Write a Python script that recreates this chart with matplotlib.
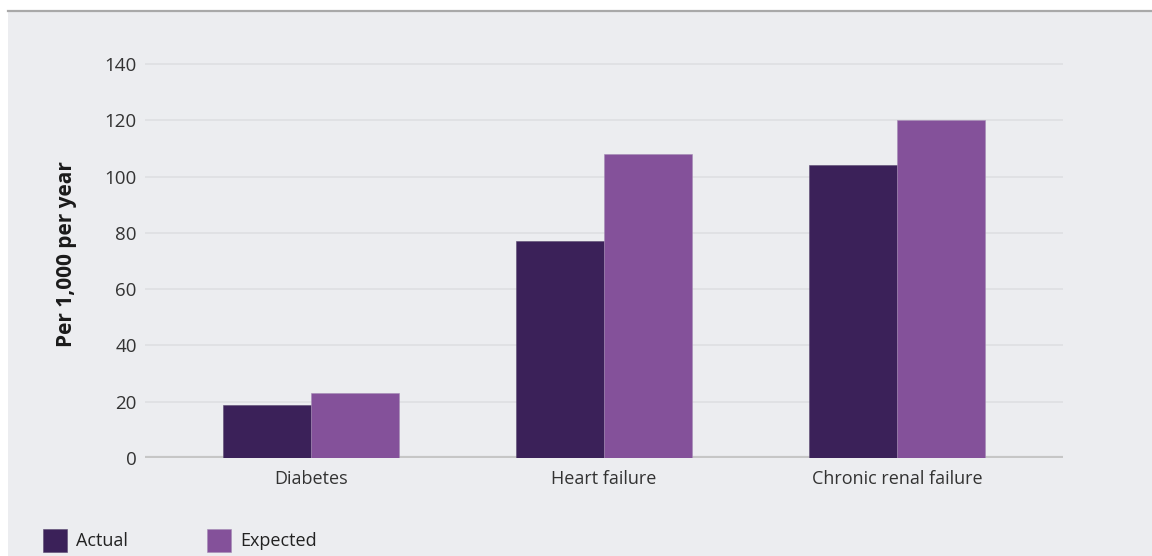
import matplotlib.pyplot as plt
import numpy as np
from matplotlib.patches import Rectangle, Patch
from matplotlib.lines import Line2D

plt.rcParams['font.family'] = ['Open Sans', 'DejaVu Sans']

# data
categories = ['Diabetes', 'Heart failure', 'Chronic renal failure']
actual = [19, 77, 104]
expected = [23, 108, 120]
yticks = [0, 20, 40, 60, 80, 100, 120, 140]

c_actual = '#3b2159'
c_expected = '#84519a'
bg = '#ecedf0'

W, H = 1152, 556
fig = plt.figure(figsize=(W / 100, H / 100), dpi=100)
fig.patch.set_facecolor('white')

# grey panel + rule at the top
fig.add_artist(Rectangle((8 / W, 0), 1 - 8 / W, (H - 12) / H, transform=fig.transFigure,
                         facecolor=bg, edgecolor='none', zorder=0))
fig.add_artist(Line2D([8 / W, 1], [1 - 11 / H, 1 - 11 / H], transform=fig.transFigure,
                      color='#a9a9a9', lw=1.6, zorder=1))

ax = fig.add_axes([145 / W, 98 / H, (1063 - 145) / W, 408 / H])
ax.set_facecolor('none')

x = np.arange(len(categories))
w = 0.3
ax.bar(x - w / 2, actual, w, color=c_actual, edgecolor='#5a4a70', linewidth=0.4, zorder=3)
ax.bar(x + w / 2, expected, w, color=c_expected, edgecolor='#a58bb5', linewidth=0.4, zorder=3)

ax.set_xlim(-0.567, 2.567)
ax.set_ylim(0, 145)
ax.set_yticks(yticks)
ax.set_yticklabels([str(v) for v in yticks], fontsize=13.5, color='#333333')
ax.set_xticks(x)
ax.set_xticklabels(categories, fontsize=13, color='#333333')
ax.tick_params(axis='both', length=0)
ax.tick_params(axis='y', pad=6)
ax.tick_params(axis='x', pad=9)

for v in yticks[1:]:
    ax.axhline(v, color='#dedfe2', lw=1.2, zorder=1)
ax.axhline(0, color='#c6c6c6', lw=3, zorder=2)

for s in ax.spines.values():
    s.set_visible(False)

ax.set_ylabel('Per 1,000 per year', fontsize=15, fontweight='bold', color='#1a1a1a', labelpad=20)

handles = [Patch(facecolor=c_actual, edgecolor='#5a4a70', lw=0.4, label='Actual'),
           Patch(facecolor=c_expected, edgecolor='#a58bb5', lw=0.4, label='Expected')]
fig.legend(handles=handles, loc='lower left', bbox_to_anchor=(43 / W, 4 / H), ncol=2,
           frameon=False, fontsize=13, handlelength=1.33, handleheight=1.6,
           handletextpad=0.5, columnspacing=4.4, labelcolor='#222222',
           borderpad=0, borderaxespad=0)

fig.savefig('out.png', dpi=100, facecolor=fig.get_facecolor())
